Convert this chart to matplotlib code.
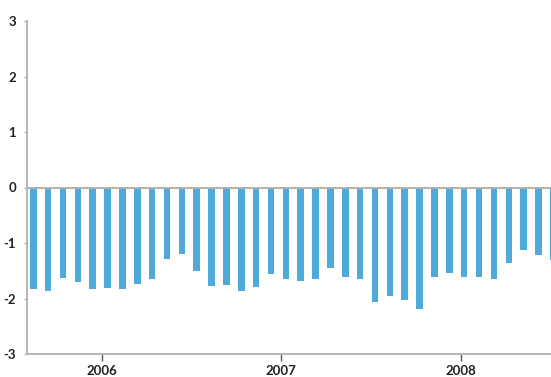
import matplotlib
matplotlib.use("Agg")
import numpy as np
import matplotlib.pyplot as plt

# monthly values, Aug 2005 - Jul 2008
values = [-1.82, -1.87, -1.63, -1.70, -1.82, -1.81, -1.83, -1.74, -1.65,
          -1.29, -1.20, -1.50, -1.78, -1.76, -1.87, -1.80, -1.56, -1.65,
          -1.68, -1.64, -1.45, -1.61, -1.65, -2.06, -1.95, -2.03, -2.19,
          -1.61, -1.54, -1.62, -1.61, -1.64, -1.36, -1.12, -1.21, -1.30]
year_ticks = [4.6, 16.7, 28.8]
year_labels = ["2006", "2007", "2008"]
y_ticks = [-3, -2, -1, 0, 1, 2, 3]

plt.rcParams["font.family"] = ["Lato", "DejaVu Sans"]

fig = plt.figure(figsize=(5.51, 3.77), dpi=100)
ax = fig.add_axes([27 / 551, 23 / 377, 1 - 27 / 551, 333 / 377])

x = np.arange(len(values))
ax.bar(x, values, width=0.44, color="#4eaad9", zorder=2)
ax.axhline(0, color="#b0b0b0", lw=1.4, zorder=3)

ax.set_xlim(-0.42, 34.84)
ax.set_ylim(-3, 3)

ax.set_yticks(y_ticks)
ax.set_yticklabels([str(v) for v in y_ticks])
ax.set_xticks(year_ticks)
ax.set_xticklabels(year_labels)

for s in ["top", "right"]:
    ax.spines[s].set_visible(False)
for s in ["left", "bottom"]:
    ax.spines[s].set_color("#b5b5b5")
    ax.spines[s].set_linewidth(1.4)

ax.tick_params(axis="y", length=2, width=1, color="#b5b5b5", pad=6,
               labelsize=9.5, labelcolor="#222222")
ax.tick_params(axis="x", length=5, width=1, color="#555555", pad=3,
               labelsize=9.5, labelcolor="#222222")
for lab in ax.get_xticklabels() + ax.get_yticklabels():
    lab.set_fontweight("bold")

fig.savefig("out.png", dpi=100)
